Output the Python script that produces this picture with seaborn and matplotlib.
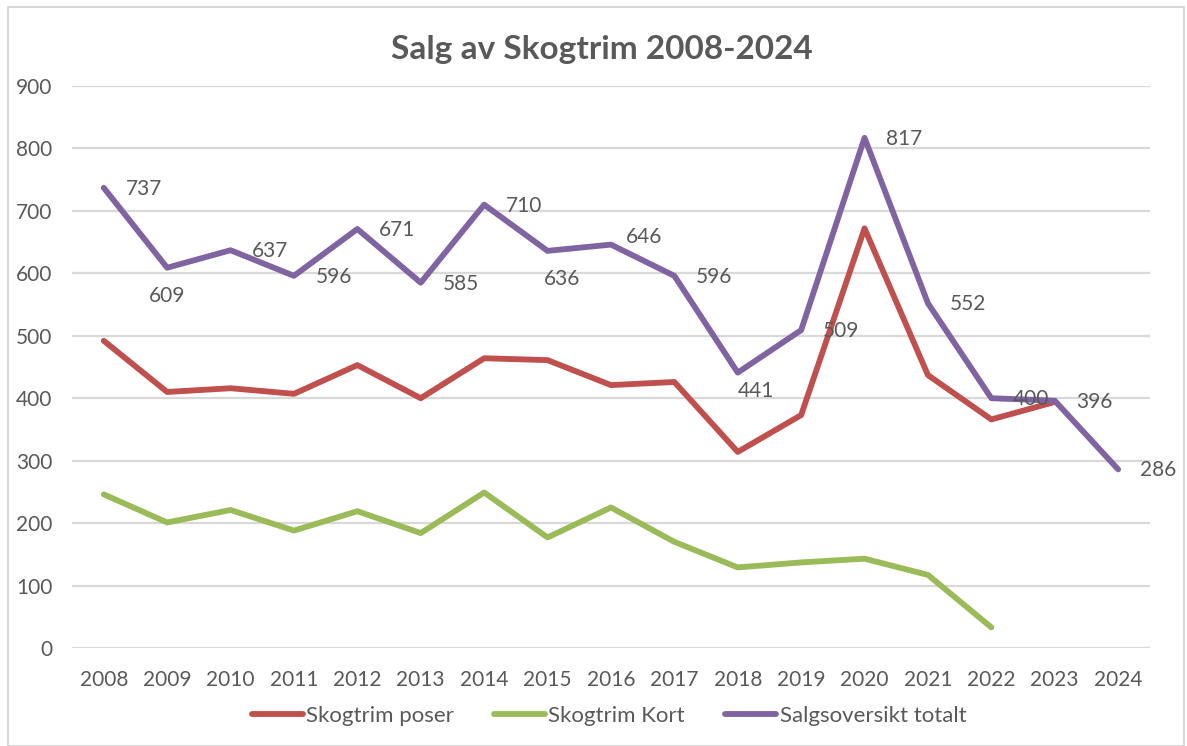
import numpy as np
import pandas as pd
import matplotlib
matplotlib.use('Agg')
import matplotlib.pyplot as plt
import seaborn as sns
from matplotlib.patches import Rectangle

years = [str(y) for y in range(2008, 2025)]
poser = [492, 410, 416, 407, 453, 400, 464, 461, 421, 426, 314, 373, 672, 437, 366, 394, np.nan]
kort = [246, 201, 221, 188, 219, 184, 249, 177, 225, 170, 129, 137, 143, 117, 33, np.nan, np.nan]
totalt = [737, 609, 637, 596, 671, 585, 710, 636, 646, 596, 441, 509, 817, 552, 400, 396, 286]
series_names = ['Skogtrim poser', 'Skogtrim Kort', 'Salgsoversikt totalt']

# label placement for the total line, (dx, dy) in pixels from the point
label_offsets = {1: (0, -28), 7: (15, -28), 10: (18, -18), 8: (33, 8)}
default_offset = (40, -1)

grey = '#595959'
colors = {'Skogtrim poser': '#c0504d', 'Skogtrim Kort': '#9bbb59', 'Salgsoversikt totalt': '#8064a2'}

df = pd.DataFrame({'year': years, series_names[0]: poser,
                   series_names[1]: kort, series_names[2]: totalt})
long = df.melt(id_vars='year', var_name='series', value_name='value').dropna()

sns.set_theme(style='white')
plt.rcParams['font.family'] = ['Lato', 'DejaVu Sans']

fig = plt.figure(figsize=(11.87, 7.46), dpi=100)
ax = fig.add_axes([0.0607, 0.1314, 0.908, 0.7533])

sns.lineplot(data=long, x='year', y='value', hue='series', hue_order=series_names,
             palette=colors, linewidth=4.2, sort=False, ax=ax)

ax.set_xlim(-0.5, len(years) - 0.5)
ax.set_ylim(0, 900)
ax.set_yticks(range(0, 901, 100))
ax.yaxis.grid(True, color='#d9d9d9', linewidth=1.6)
ax.set_axisbelow(True)
for s in ax.spines.values():
    s.set_visible(False)
ax.tick_params(axis='both', length=0, labelsize=15, labelcolor=grey)
ax.tick_params(axis='x', pad=16)
ax.tick_params(axis='y', pad=14)
ax.set_xlabel('')
ax.set_ylabel('')

for i, v in enumerate(totalt):
    dx, dy = label_offsets.get(i, default_offset)
    ax.annotate(f'{v}', (i, v), xytext=(dx, dy), textcoords='offset pixels',
                ha='center', va='center', fontsize=15, color=grey)

fig.text(0.507, 0.933, 'Salg av Skogtrim 2008-2024', ha='center', va='center',
         fontsize=24, fontweight='bold', color=grey)

sns.move_legend(ax, 'center', bbox_to_anchor=(0.513, 0.04), bbox_transform=fig.transFigure,
                ncol=3, frameon=False, title=None, fontsize=16, handlelength=2.3,
                handletextpad=0.15, columnspacing=1.8)
for t in ax.get_legend().get_texts():
    t.set_color(grey)

fig.patches.append(Rectangle((0.0067, 0.0), 0.991, 0.9906, transform=fig.transFigure,
                             fill=False, edgecolor='#d9d9d9', linewidth=1.5))

fig.savefig('out.png', dpi=100)
